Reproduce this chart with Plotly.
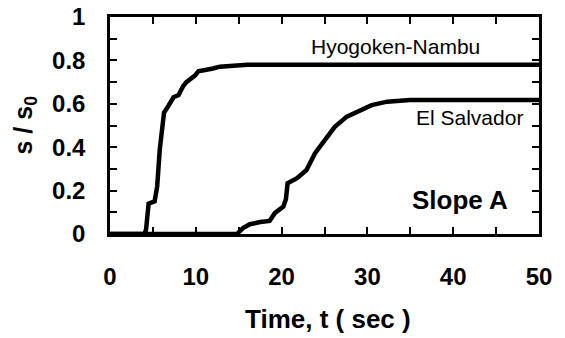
import plotly.graph_objects as go

# Data
hyogo_t = [0, 4.0, 4.2, 4.5, 5.2, 5.5, 5.8, 6.0, 6.3, 6.8, 7.4, 8.0, 8.5, 8.9, 9.3, 9.9, 10.3, 11.3, 12.0, 12.8, 14.0, 16.0, 50]
hyogo_s = [0, 0, 0.02, 0.14, 0.15, 0.22, 0.39, 0.47, 0.56, 0.59, 0.63, 0.64, 0.68, 0.70, 0.71, 0.73, 0.75, 0.756, 0.763, 0.771, 0.776, 0.78, 0.78]

salv_t = [0, 14.8, 15.5, 16.3, 17.5, 18.6, 19.2, 20.2, 20.5, 20.7, 21.8, 22.9, 23.9, 24.9, 26.2, 27.6, 29.1, 30.5, 32.3, 35.0, 50]
salv_s = [0, 0, 0.027, 0.045, 0.055, 0.06, 0.096, 0.126, 0.16, 0.234, 0.257, 0.295, 0.372, 0.425, 0.494, 0.541, 0.571, 0.594, 0.61, 0.617, 0.617]

x_tickvals = [0, 5, 10, 15, 20, 25, 30, 35, 40, 45, 50]
x_ticktext = ["0", "", "10", "", "20", "", "30", "", "40", "", "50"]
y_tickvals = [0, 0.1, 0.2, 0.3, 0.4, 0.5, 0.6, 0.7, 0.8, 0.9, 1.0]
y_ticktext = ["0", "", "0.2", "", "0.4", "", "0.6", "", "0.8", "", "1"]

series_names = ["Hyogoken-Nambu", "El Salvador"]

FONT = "Arial, Liberation Sans, sans-serif"


def bold(s):
    return "<b>" + s + "</b>" if s else s


fig = go.Figure()
fig.add_trace(go.Scatter(x=hyogo_t, y=hyogo_s, mode="lines", name=series_names[0],
                         line=dict(color="black", width=4.5), showlegend=False))
fig.add_trace(go.Scatter(x=salv_t, y=salv_s, mode="lines", name=series_names[1],
                         line=dict(color="black", width=4.5), showlegend=False))

fig.update_xaxes(range=[0, 50], tickmode="array", tickvals=x_tickvals,
                 ticktext=[bold(t) for t in x_ticktext],
                 showgrid=False, zeroline=False, showline=True, mirror="ticks",
                 linecolor="black", linewidth=2.5,
                 ticks="inside", ticklen=7, tickwidth=2, tickcolor="black",
                 ticklabelstandoff=19,
                 tickfont=dict(family=FONT, size=24, color="black"))
fig.update_yaxes(range=[0, 1], tickmode="array", tickvals=y_tickvals,
                 ticktext=[bold(t) for t in y_ticktext],
                 showgrid=False, zeroline=False, showline=True, mirror="ticks",
                 linecolor="black", linewidth=2.5,
                 ticks="inside", ticklen=7, tickwidth=2, tickcolor="black",
                 ticklabelstandoff=17,
                 tickfont=dict(family=FONT, size=24, color="black"))

fig.add_annotation(x=43.3, y=0.865, xref="x", yref="y", text=series_names[0],
                   showarrow=False, xanchor="right", yanchor="middle",
                   font=dict(family=FONT, size=21, color="black"))
fig.add_annotation(x=48.37, y=0.539, xref="x", yref="y", text=series_names[1],
                   showarrow=False, xanchor="right", yanchor="middle",
                   font=dict(family=FONT, size=21, color="black"))
fig.add_annotation(x=46.6, y=0.155, xref="x", yref="y", text="<b>Slope A</b>",
                   showarrow=False, xanchor="right", yanchor="middle",
                   font=dict(family=FONT, size=26, color="black"))

# Axis titles
fig.add_annotation(x=0.5, y=0, xref="paper", yref="paper", text="<b>Time, t ( sec )</b>",
                   showarrow=False, xanchor="center", yanchor="middle", yshift=-85, xshift=3,
                   font=dict(family=FONT, size=26, color="black"))
fig.add_annotation(x=0, y=0.5, xref="paper", yref="paper", text="<b>s / s<sub>0</sub></b>",
                   showarrow=False, xanchor="center", yanchor="middle", xshift=-86,
                   textangle=-90,
                   font=dict(family=FONT, size=25, color="black"))

fig.update_layout(template="none", width=565, height=338,
                  margin=dict(l=110, r=26, t=17, b=104),
                  paper_bgcolor="white", plot_bgcolor="white")

fig.write_html("out.html")
